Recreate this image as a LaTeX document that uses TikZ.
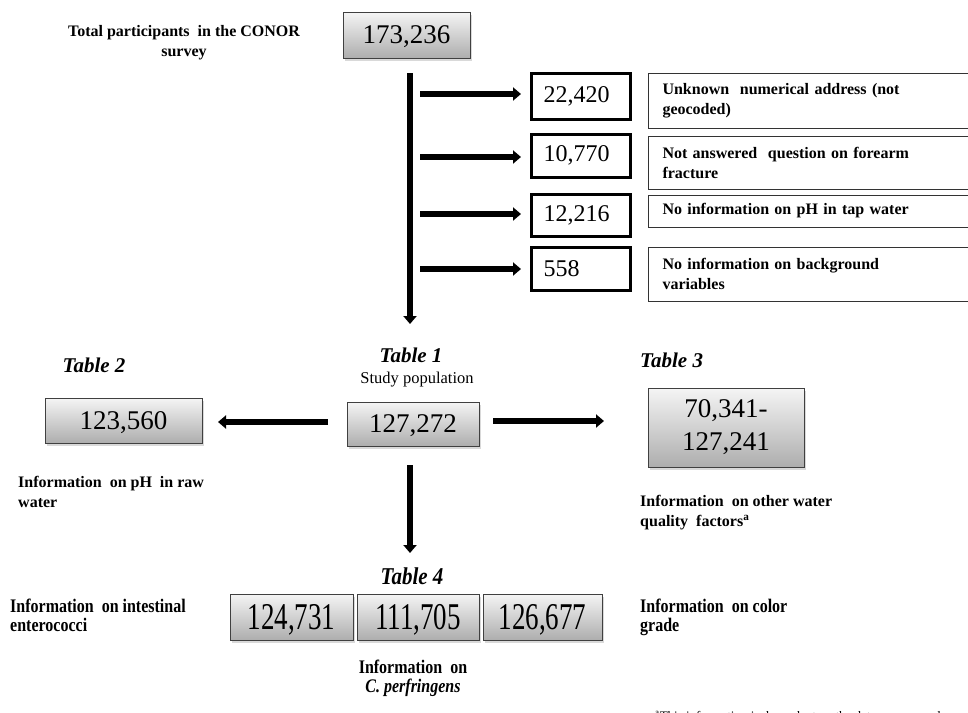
\documentclass[tikz,border=0pt]{standalone}
\usepackage{fontspec}
\setmainfont{Liberation Serif}
\usetikzlibrary{arrows.meta,shadows}
\begin{document}
\begin{tikzpicture}[x=1pt,y=1pt,
  graybox/.style={draw=black!75, line width=0.9pt, top color=black!4, bottom color=black!32,
    drop shadow={opacity=0.3, shadow xshift=1.5pt, shadow yshift=-2.5pt},
    inner sep=0pt, font=\fontsize{27}{33}\selectfont},
  oneline/.style={text depth=0pt},
  numbox/.style={draw=black, line width=3pt, fill=white, anchor=west, minimum width=99pt,
    text width=75pt, inner xsep=12pt, inner ysep=0pt, align=left, font=\fontsize{24}{28}\selectfont},
  infobox/.style={draw=black!80, line width=1pt, anchor=west, text width=304pt,
    inner xsep=14pt, inner ysep=0pt, align=left, font=\bfseries\fontsize{16}{20}\selectfont},
  lab/.style={inner sep=0pt, align=left, font=\bfseries\fontsize{16}{20}\selectfont},
  tab/.style={inner sep=0pt, font=\bfseries\itshape\fontsize{21}{24}\selectfont},
  arr/.style={line width=6pt, -{Triangle[width=13pt,length=8pt]}},
]
\useasboundingbox (0,0) rectangle (968,-712);

% top
\node[lab, align=center] (totlab) at (184,-43) {Total participants\ \ in the CONOR\\survey};
\node[graybox, oneline, minimum width=127pt, minimum height=46pt] (total) at (406.5,-35) {173,236};

\coordinate (vtop) at (410,-73);
\coordinate (vbot) at (410,-324);
\draw[arr, line width=5.5pt] (vtop) -- (vbot);

% exclusions
\node[numbox, minimum height=46pt] (n1) at (530,-96) {22,420};
\node[numbox, minimum height=43pt] (n2) at (530,-155.5) {10,770};
\node[numbox, minimum height=42pt] (n3) at (530,-215) {12,216};
\node[numbox, minimum height=43pt] (n4) at (530,-268.5) {558};

\node[infobox, minimum height=55pt] (i1) at (648,-100.5) {Unknown\ \ numerical address (not\\geocoded)};
\node[infobox, minimum height=53pt] (i2) at (648,-162.5) {Not answered\ \ question on forearm\\fracture};
\node[infobox, minimum height=32pt] (i3) at (648,-211) {No information on pH in tap water};
\node[infobox, minimum height=54pt] (i4) at (648,-274) {No information on background\\variables};

\coordinate (s1) at (420,-94);
\coordinate (s2) at (420,-157);
\coordinate (s3) at (420,-214);
\coordinate (s4) at (420,-269);
\draw[arr, shorten >=9pt] (s1) -- (s1 -| n1.west);
\draw[arr, shorten >=9pt] (s2) -- (s2 -| n2.west);
\draw[arr, shorten >=9pt] (s3) -- (s3 -| n3.west);
\draw[arr, shorten >=9pt] (s4) -- (s4 -| n4.west);

% middle
\node[tab] (tab1) at (411,-355) {Table 1};
\node[inner sep=0pt, font=\fontsize{16.5}{20}\selectfont] (studypop) at (417,-380) {Study population};
\node[graybox, oneline, minimum width=132pt, minimum height=44pt] (pop) at (413,-424) {127,272};

\node[tab] (tab2) at (94,-365) {Table 2};
\node[graybox, oneline, minimum width=157pt, minimum height=45pt] (t2box) at (123.5,-420.5) {123,560};
\node[lab, anchor=west] (lab2) at (18,-492) {Information\ \ on pH\ \ in raw\\water};

\node[tab, anchor=west] (tab3) at (640,-360) {Table 3};
\node[graybox, minimum width=156pt, minimum height=79pt] (t3box) at (726,-427.5) {\raisebox{-3pt}{\begin{tabular}{@{}c@{}}70,341-\\127,241\end{tabular}}};
\node[lab, anchor=west] (lab3) at (640,-513) {Information\ \ on other water\\quality\ \ factors\textsuperscript{a}};

\coordinate (la1) at (328,-422);
\coordinate (la2) at (218,-422);
\coordinate (ra1) at (493,-421);
\coordinate (ra2) at (604,-421);
\draw[arr] (la1) -- (la2);
\draw[arr] (ra1) -- (ra2);

\coordinate (da1) at (410,-465);
\coordinate (da2) at (410,-553);
\draw[arr] (da1) -- (da2);

% bottom
\node[tab] (tab4) at (412,-576) {\scalebox{1}[1.15]{Table 4}};
\node[graybox, oneline, minimum width=123pt, minimum height=46pt] (b1) at (291.5,-617) {\scalebox{1}[1.4]{124,731}};
\node[graybox, oneline, minimum width=122pt, minimum height=46pt] (b2) at (418,-617) {\scalebox{1}[1.4]{111,705}};
\node[graybox, oneline, minimum width=119pt, minimum height=46pt] (b3) at (542.5,-617) {\scalebox{1}[1.4]{126,677}};

\node[lab, anchor=west] (lab4a) at (10,-618) {\scalebox{1}[1.2]{\fontsize{16}{16.5}\selectfont\begin{tabular}{@{}l@{}}Information\ \ on intestinal\\enterococci\end{tabular}}};
\node[lab, anchor=west] (lab4c) at (640,-618) {\scalebox{1}[1.2]{\fontsize{16}{16.5}\selectfont\begin{tabular}{@{}l@{}}Information\ \ on color\\grade\end{tabular}}};
\node[lab] (lab4b) at (413,-679) {\scalebox{1}[1.2]{\fontsize{16}{16.5}\selectfont\begin{tabular}{@{}c@{}}Information\ \ on\\\itshape C. perfringens\end{tabular}}};

\node[anchor=base west, inner sep=0pt, font=\fontsize{13}{15}\selectfont] (foot) at (655,-720) {\textsuperscript{a}This information is dependent on the data source used};
\end{tikzpicture}
\end{document}
